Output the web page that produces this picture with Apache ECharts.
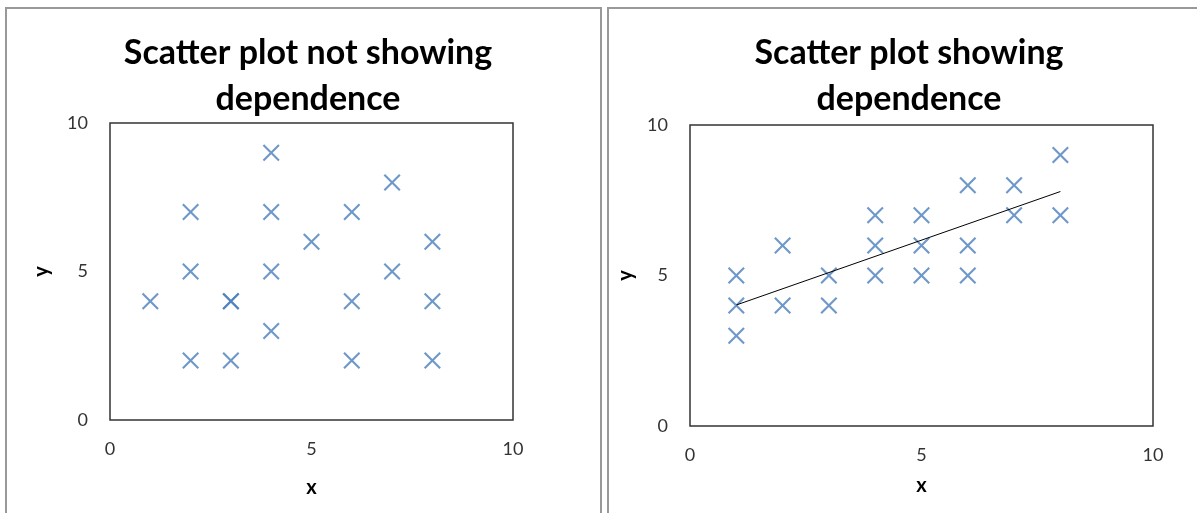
<!DOCTYPE html>
<html>
<head>
<meta charset="utf-8">
<script src="https://cdn.jsdelivr.net/npm/echarts@6/dist/echarts.min.js"></script>
<style>
html,body{margin:0;padding:0;background:#fff;}
#chart{width:1197px;height:513px;}
</style>
</head>
<body>
<div id="chart"></div>
<script>
// Left chart: no dependence
const leftTitle = "Scatter plot not showing\ndependence";
const leftX = [1, 2, 2, 2, 3, 3, 3, 4, 4, 4, 4, 5, 6, 6, 6, 7, 7, 8, 8, 8];
const leftY = [4, 7, 5, 2, 4, 4, 2, 9, 7, 5, 3, 6, 7, 4, 2, 8, 5, 6, 4, 2];

// Right chart: dependence
const rightTitle = "Scatter plot showing\ndependence";
const rightX = [1, 1, 1, 2, 2, 3, 3, 4, 4, 4, 5, 5, 5, 6, 6, 6, 7, 7, 8, 8];
const rightY = [5, 4, 3, 6, 4, 5, 4, 7, 6, 5, 7, 6, 5, 8, 6, 5, 8, 7, 9, 7];
// Trendline endpoints
const trendX = [1, 8];
const trendY = [4.02, 7.79];

// Axis settings (ticks)
const axisMin = 0, axisMax = 10, axisStep = 5;
const xName = "x", yName = "y";

const zip = (a, b) => a.map((v, i) => [v, b[i]]);

const blue = '#4a7ebb';
const xSymbol = 'path://M0,1.4L1.4,0L8,6.6L14.6,0L16,1.4L9.4,8L16,14.6L14.6,16L8,9.4L1.4,16L0,14.6L6.6,8Z';
const fontFam = 'Lato, "Open Sans", sans-serif';

function valAxis(gridIndex, isX, nameGap) {
  return {
    type: 'value', gridIndex, min: axisMin, max: axisMax, interval: axisStep,
    name: isX ? xName : yName, nameLocation: 'middle', nameGap,
    nameTextStyle: { fontFamily: fontFam, fontWeight: 'bold', fontSize: 20, color: '#000' },
    axisLine: { show: false }, axisTick: { show: false }, splitLine: { show: false },
    axisLabel: { margin: isX ? 20 : 22, fontFamily: fontFam, fontSize: 18, color: '#333' }
  };
}

const chart = echarts.init(document.getElementById('chart'), null, { renderer: 'canvas' });
chart.setOption({
  backgroundColor: '#fff',
  animation: false,
  title: [
    { text: leftTitle, left: 303, top: 25, textAlign: 'center',
      textStyle: { fontFamily: fontFam, fontWeight: 'bold', fontSize: 34, lineHeight: 46, color: '#000' } },
    { text: rightTitle, left: 904, top: 25, textAlign: 'center',
      textStyle: { fontFamily: fontFam, fontWeight: 'bold', fontSize: 34, lineHeight: 46, color: '#000' } }
  ],
  grid: [
    { left: 110, top: 123, width: 403, height: 297, show: true, borderColor: '#333', borderWidth: 1.5, backgroundColor: 'transparent' },
    { left: 690, top: 125, width: 463, height: 301, show: true, borderColor: '#333', borderWidth: 1.5, backgroundColor: 'transparent' }
  ],
  xAxis: [valAxis(0, true, 58), valAxis(1, true, 50)],
  yAxis: [valAxis(0, false, 58), valAxis(1, false, 54)],
  graphic: [
    { type: 'rect', shape: { x: 6, y: 8, width: 595, height: 530 }, style: { fill: 'none', stroke: '#999', lineWidth: 2 }, silent: true },
    { type: 'rect', shape: { x: 608, y: 8, width: 620, height: 530 }, style: { fill: 'none', stroke: '#999', lineWidth: 2 }, silent: true }
  ],
  series: [
    { type: 'scatter', xAxisIndex: 0, yAxisIndex: 0, data: zip(leftX, leftY),
      symbol: xSymbol, symbolSize: 17, itemStyle: { color: blue } },
    { type: 'scatter', xAxisIndex: 1, yAxisIndex: 1, data: zip(rightX, rightY),
      symbol: xSymbol, symbolSize: 17, itemStyle: { color: blue } },
    { type: 'line', xAxisIndex: 1, yAxisIndex: 1, data: zip(trendX, trendY),
      symbol: 'none', lineStyle: { color: '#000', width: 1 }, z: 3 }
  ]
});
</script>
</body>
</html>
